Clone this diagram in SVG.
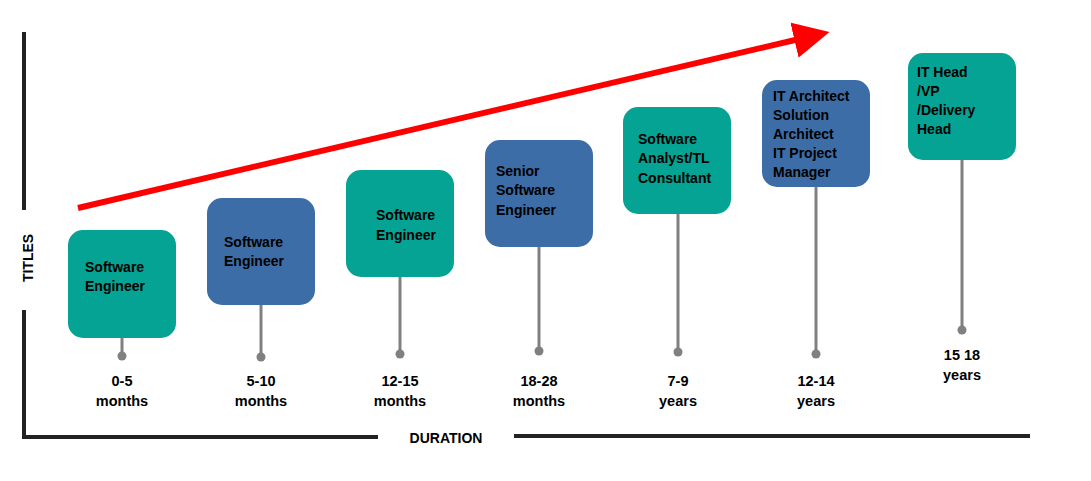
<svg xmlns="http://www.w3.org/2000/svg" width="1091" height="481" viewBox="0 0 1091 481">
<defs>
<style>
.t{fill:#05a393}.b{fill:#3d6da6}
text{font-family:"Liberation Sans",Arial,sans-serif;font-weight:bold;font-size:14px;fill:#000}
.d{text-anchor:middle;font-size:14.5px}
.stem{stroke:#808080;stroke-width:3}
.dot{fill:#808080}
.ax{stroke:#222;stroke-width:4;fill:none}
</style>
<marker id="ah" markerWidth="6" markerHeight="6" refX="3" refY="3" orient="auto" markerUnits="strokeWidth"><path d="M0,0 L6,3 L0,6 z" fill="#f00"/></marker>
</defs>
<rect width="1091" height="481" fill="#fff"/>
<g id="axes">
<path class="ax" d="M24,32 V210 M24,310 V437 H378 M514,436 H1030"/>
<text transform="translate(33,258) rotate(-90)" text-anchor="middle" font-size="15">TITLES</text>
<text x="446" y="443" text-anchor="middle" font-size="15">DURATION</text>
</g>
<g id="connectors">
<line x1="78" y1="208" x2="812" y2="36" stroke="#f00" stroke-width="6" marker-end="url(#ah)"/>
<line class="stem" x1="122" y1="330" x2="122" y2="356"/><circle class="dot" cx="122" cy="356" r="4.5"/>
<line class="stem" x1="261" y1="300" x2="261" y2="357"/><circle class="dot" cx="261" cy="357" r="4.5"/>
<line class="stem" x1="400" y1="270" x2="400" y2="354"/><circle class="dot" cx="400" cy="354" r="4.5"/>
<line class="stem" x1="539" y1="240" x2="539" y2="351"/><circle class="dot" cx="539" cy="351" r="4.5"/>
<line class="stem" x1="678" y1="210" x2="678" y2="352"/><circle class="dot" cx="678" cy="352" r="4.5"/>
<line class="stem" x1="816" y1="180" x2="816" y2="354"/><circle class="dot" cx="816" cy="354" r="4.5"/>
<line class="stem" x1="962" y1="155" x2="962" y2="330"/><circle class="dot" cx="962" cy="330" r="4.5"/>
</g>
<g id="n1"><rect class="t" x="68" y="230" width="108" height="108" rx="15"/><text x="85" y="272">Software</text><text x="85" y="291">Engineer</text><text class="d" x="122" y="386">0-5</text><text class="d" x="122" y="406">months</text></g>
<g id="n2"><rect class="b" x="207" y="198" width="108" height="107" rx="15"/><text x="224" y="247">Software</text><text x="224" y="266">Engineer</text><text class="d" x="261" y="386">5-10</text><text class="d" x="261" y="406">months</text></g>
<g id="n3"><rect class="t" x="346" y="170" width="108" height="107" rx="15"/><text x="376" y="220">Software</text><text x="376" y="240">Engineer</text><text class="d" x="400" y="386">12-15</text><text class="d" x="400" y="406">months</text></g>
<g id="n4"><rect class="b" x="485" y="140" width="108" height="107" rx="15"/><text x="496" y="176">Senior</text><text x="496" y="195">Software</text><text x="496" y="215">Engineer</text><text class="d" x="539" y="386">18-28</text><text class="d" x="539" y="406">months</text></g>
<g id="n5"><rect class="t" x="623" y="107" width="108" height="107" rx="15"/><text x="638" y="144">Software</text><text x="638" y="163">Analyst/TL</text><text x="638" y="183">Consultant</text><text class="d" x="678" y="386">7-9</text><text class="d" x="678" y="406">years</text></g>
<g id="n6"><rect class="b" x="762" y="80" width="108" height="107" rx="15"/><text x="773" y="101">IT Architect</text><text x="773" y="120">Solution</text><text x="773" y="139">Architect</text><text x="773" y="158">IT Project</text><text x="773" y="177">Manager</text><text class="d" x="816" y="386">12-14</text><text class="d" x="816" y="406">years</text></g>
<g id="n7"><rect class="t" x="908" y="53" width="108" height="107" rx="15"/><text x="917" y="77">IT Head</text><text x="917" y="96">/VP</text><text x="917" y="115">/Delivery</text><text x="917" y="134">Head</text><text class="d" x="962" y="360">15 18</text><text class="d" x="962" y="380">years</text></g>
</svg>
